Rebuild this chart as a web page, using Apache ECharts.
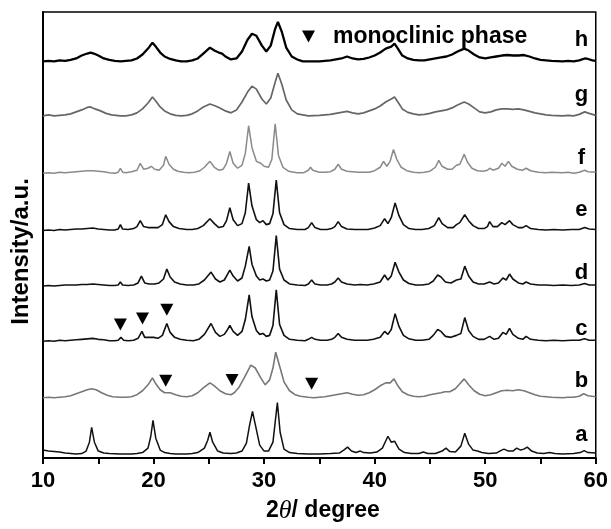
<!DOCTYPE html>
<html>
<head>
<meta charset="utf-8">
<script src="https://cdn.jsdelivr.net/npm/echarts@6/dist/echarts.min.js"></script>
<style>
html,body{margin:0;padding:0;background:#fff;}
#chart{width:611px;height:529px;}
</style>
</head>
<body>
<div id="chart"></div>
<script>
// ---------- DATA ----------
const sampleNames = ['a','b','c','d','e','f','g','h'];
const xTicks = [10, 20, 30, 40, 50, 60];

// [2theta, intensity above the trace's own baseline]
const traceA = [[10,4],[10.5,3],[11,2.5],[11.5,2],[12,1],[12.5,0.5],[13,0],[13.5,0.5],[13.9,3],[14.2,12],[14.4,27],[14.65,12],[15,3],[15.5,1],[16,0.5],[17,0],[18,0],[18.5,0.5],[19,1.5],[19.5,6],[19.75,18],[19.95,34],[20.2,16],[20.6,4],[21,1.5],[21.5,0.5],[22,0],[23,0],[23.5,0.5],[24,1.5],[24.6,6],[24.9,14],[25.1,22],[25.35,12],[25.8,3],[26.3,1],[27,0.5],[27.5,1],[28,3],[28.4,11],[28.7,30],[28.95,43],[29.2,30],[29.6,9],[30,3],[30.4,3],[30.8,12],[31.0,32],[31.2,52],[31.45,22],[31.8,5],[32.3,1.5],[33,0.5],[34,0],[35,0],[36,0.5],[36.8,1],[37.2,4],[37.55,7],[37.9,3],[38.3,1.5],[38.7,3],[39.0,1.5],[39.6,1],[40.2,2],[40.7,6],[41.2,18],[41.5,12],[41.8,13],[42.2,5],[42.7,1.5],[43.3,0.5],[44,0.5],[44.4,2],[44.8,0.5],[45.5,0.5],[46.1,3],[46.45,6],[46.8,2.5],[47.3,2],[47.8,8],[48.15,21],[48.5,10],[48.9,4],[49.3,3],[49.7,1.5],[50.3,0.5],[51,1],[51.4,3.5],[51.7,5],[52.1,3],[52.5,3],[52.85,6],[53.2,4],[53.5,5],[53.8,7],[54.2,3],[54.7,1],[55.3,0.5],[55.8,1.5],[56.3,0.5],[57,0],[58,0.5],[58.6,1.5],[58.95,3.5],[59.3,1.5],[60,1]];
const traceB = [[10,0],[10.5,0.5],[11,0],[11.5,0.5],[12,1],[12.5,2],[13,4],[13.5,6],[14,8],[14.4,9],[14.8,8],[15.3,5],[15.8,2.5],[16.3,1],[17,0.5],[17.5,0.5],[18,1],[18.5,3],[19,7],[19.5,13],[19.9,20],[20.2,14],[20.6,8],[21,5],[21.5,5],[22,3],[22.5,1.5],[23,1],[23.5,2],[24,5],[24.5,10],[25.1,15],[25.5,12],[26,7],[26.5,4],[27,3],[27.3,5],[27.7,10],[28.2,20],[28.8,33],[29.2,30],[29.7,20],[30.1,13],[30.5,18],[30.8,30],[31.05,46],[31.4,32],[31.8,16],[32.3,7],[32.8,3],[33.3,1.5],[34,0.5],[34.5,0],[35,0.5],[35.5,1],[36,2],[36.5,3],[37,4],[37.5,5],[38,3.5],[38.5,2.5],[39,3],[39.5,5],[40,8],[40.5,12],[41,15],[41.4,15],[41.75,19],[42.1,12],[42.5,6],[43,3],[43.5,1.5],[44,1],[44.5,1.5],[45,3],[45.5,4],[46,5],[46.35,6],[46.8,6],[47.3,9],[47.7,14],[48.1,19],[48.5,13],[49,7],[49.5,3.5],[50,2],[50.5,3],[51,5],[51.5,7],[52,7.5],[52.5,7],[53,8],[53.5,7],[54,5],[54.5,3],[55,1.5],[55.5,1],[56,0.5],[57,0],[57.5,0.5],[58,0.5],[58.5,1.5],[58.9,4],[59.3,2],[60,1]];
const traceC = [[10,0],[10.5,0.5],[11,0],[11.5,1],[12,0.5],[12.5,1],[13,1.5],[13.5,2],[14,2.5],[14.5,3],[15,2],[15.5,1.5],[16,0.5],[16.5,0.5],[16.8,1],[17.05,4],[17.3,1],[17.7,0.5],[18.2,1],[18.6,3],[18.95,10],[19.2,4],[19.6,4],[20.0,4],[20.4,3],[20.8,6],[21.2,18],[21.5,9],[21.9,4],[22.4,2],[23,1],[23.6,0.5],[24.1,2],[24.6,7],[25.2,18],[25.6,9],[26,5],[26.4,7],[26.7,12],[26.9,16],[27.2,10],[27.6,6],[28.0,10],[28.3,22],[28.65,47],[28.9,25],[29.3,11],[29.6,7],[29.9,8],[30.2,5],[30.5,6],[30.8,16],[31.1,52],[31.4,17],[31.8,6],[32.3,2],[33,1],[33.7,0.5],[34.0,2],[34.3,4],[34.6,2],[35.1,1],[35.7,1],[36.1,2],[36.4,4],[36.7,8],[37.0,4],[37.5,2],[38.2,1],[38.7,1],[39.3,1],[39.9,2],[40.5,4],[40.9,10],[41.2,7],[41.5,12],[41.85,28],[42.2,15],[42.6,6],[43.1,2.5],[43.7,1],[44.3,1],[44.9,2],[45.3,6],[45.7,12],[46.0,10],[46.4,5],[46.9,4],[47.4,6],[47.8,8],[48.15,24],[48.5,11],[48.9,5],[49.4,2],[49.9,2],[50.4,5],[50.8,2],[51.2,3],[51.6,9],[51.9,7],[52.2,13],[52.5,7],[53,3],[53.4,2],[53.7,5],[54.1,2],[54.8,1],[55.5,0.5],[56.2,1],[57,0.5],[57.8,1],[58.5,1],[59.0,2.5],[59.4,1],[60,1]];
const traceD = [[10,0],[10.5,0.5],[11,0],[11.5,0.5],[12,1],[12.5,1],[13,1],[13.5,1.5],[14,1.5],[14.5,2],[15,1.5],[15.5,1],[16,0.5],[16.5,0.5],[16.8,1],[17.0,4],[17.2,1],[17.7,0.5],[18.2,1],[18.6,3],[18.9,10],[19.2,3],[19.6,2],[20.1,2],[20.5,3],[20.9,7],[21.2,17],[21.5,9],[21.9,4],[22.4,2],[23,1],[23.6,1],[24.1,2],[24.6,6],[25.2,14],[25.6,7],[26,4],[26.4,6],[26.7,12],[26.9,16],[27.2,10],[27.6,5],[28.0,8],[28.3,20],[28.65,40],[28.9,22],[29.3,10],[29.6,6],[29.9,7],[30.2,5],[30.5,6],[30.8,15],[31.1,51],[31.4,17],[31.8,6],[32.3,2],[33,1],[33.7,0.5],[34.0,2],[34.3,6],[34.6,2],[35.1,1],[35.7,1],[36.1,2],[36.4,4],[36.7,8],[37.0,4],[37.5,2],[38.2,1],[38.7,1.5],[39.3,1],[39.9,2],[40.5,4],[40.9,11],[41.2,6],[41.5,10],[41.85,24],[42.2,14],[42.6,6],[43.1,2.5],[43.7,1],[44.3,1],[44.9,2],[45.3,5],[45.7,11],[46.0,9],[46.4,4],[46.9,3],[47.4,6],[47.8,7],[48.15,20],[48.5,10],[48.9,4],[49.4,2],[49.9,2],[50.4,4],[50.8,2],[51.2,3],[51.6,8],[51.9,6],[52.2,12],[52.5,7],[53,3],[53.4,2],[53.7,4],[54.1,2],[54.8,1],[55.5,1],[56.2,0.5],[57,1],[57.8,0.5],[58.5,1],[59.0,2.5],[59.4,1],[60,1]];
const traceE = [[10,0],[10.5,0.5],[11,0],[11.5,1],[12,0.5],[12.5,1],[13,1.5],[13.5,1.5],[14,2],[14.5,2.5],[15,1.5],[15.5,1],[16,0.5],[16.5,0.5],[16.8,1.5],[17.0,6],[17.2,1.5],[17.7,1],[18.2,2],[18.5,4],[18.8,10],[19.1,4],[19.5,3],[19.9,3],[20.4,3],[20.8,6],[21.1,16],[21.4,9],[21.8,4],[22.3,2],[23,1],[23.5,1],[24,2],[24.5,5],[25.1,12],[25.5,7],[25.9,3],[26.3,4],[26.6,10],[26.9,23],[27.2,11],[27.6,5],[28.0,7],[28.3,18],[28.6,48],[28.9,25],[29.3,11],[29.6,8],[29.9,10],[30.2,6],[30.5,7],[30.8,17],[31.1,51],[31.4,18],[31.8,6],[32.3,2],[33,1],[33.7,1],[34.0,3],[34.3,8],[34.6,3],[35.1,1],[35.7,1],[36.1,2],[36.4,4],[36.7,9],[37.0,4],[37.5,1.5],[38.2,1],[38.8,1],[39.4,1],[40,2.5],[40.5,5],[40.9,12],[41.2,7],[41.5,13],[41.85,28],[42.2,15],[42.6,6],[43.1,2],[43.7,1],[44.3,1],[44.9,2],[45.4,5],[45.8,13],[46.1,7],[46.6,3],[47.1,3],[47.4,6],[47.7,8],[48.15,16],[48.5,10],[48.9,5],[49.4,2],[49.9,2],[50.2,4],[50.4,9],[50.7,4],[51.1,4],[51.5,8],[51.8,6],[52.2,10],[52.5,6],[53,3],[53.4,3],[53.7,5],[54.1,2],[54.8,1],[55.5,0.5],[56.2,1],[57,0.5],[57.8,1],[58.5,1],[59.0,3],[59.4,1.5],[60,1]];
const traceF = [[10,0],[10.5,0.5],[11,0],[11.5,1],[12,0.5],[12.5,1],[13,1.5],[13.5,2],[14,2.5],[14.5,2.5],[15,2],[15.5,1.5],[16,0.5],[16.5,0],[16.8,1],[17.0,5],[17.2,1],[17.5,0.5],[18,1.5],[18.5,3],[18.8,10],[19.1,4],[19.5,5],[19.8,7],[20.1,4],[20.5,3],[20.9,8],[21.1,17],[21.4,9],[21.8,4],[22.2,2],[22.7,1],[23.2,0.5],[23.7,1],[24.2,2.5],[24.6,6],[25.1,12],[25.5,6],[25.9,3],[26.3,4],[26.6,10],[26.9,22],[27.2,10],[27.6,5],[28.0,8],[28.3,20],[28.6,48],[28.9,26],[29.3,12],[29.7,10],[30.0,7],[30.4,6],[30.7,14],[31.0,50],[31.3,18],[31.7,6],[32.2,2],[33,0.5],[33.6,0.5],[34.0,3],[34.2,6],[34.4,3],[35,1],[35.5,1],[36,1.5],[36.4,4],[36.7,9],[37.0,4],[37.5,2],[38,1.5],[38.5,1],[39,1],[39.5,1],[40,2.5],[40.5,6],[40.8,12],[41.1,7],[41.4,12],[41.7,24],[42.0,14],[42.4,6],[42.9,2.5],[43.5,1],[44,0.5],[44.5,1],[45,2],[45.5,6],[45.8,13],[46.1,7],[46.6,4],[47.0,4],[47.4,8],[47.7,9],[48.1,19],[48.4,11],[48.8,5],[49.3,2.5],[49.8,2],[50.2,3],[50.4,5],[50.7,3],[51.2,5],[51.5,10],[51.8,7],[52.1,12],[52.4,7],[52.9,4],[53.4,3],[53.7,5],[54.1,2.5],[54.8,1],[55.5,0.5],[56,1],[57,0.5],[57.5,1],[58,0],[58.5,1],[59.0,3],[59.3,1.5],[60,1]];
const traceG = [[10,0],[10.5,1],[11,0],[11.5,0.5],[12,1],[12.5,2],[13,4],[13.5,6],[14,8.5],[14.3,9],[14.7,7],[15.2,5],[15.7,2.5],[16.2,1],[17,0],[17.5,0],[18,1],[18.5,3],[19,7],[19.5,13],[19.9,19],[20.2,15],[20.6,9],[21,5],[21.5,2],[22,0.5],[22.5,0],[23,0.5],[23.5,2],[24,5],[24.5,9],[25.1,12],[25.6,10],[26,8],[26.5,5],[27,3],[27.5,6],[28,14],[28.5,24],[28.9,30],[29.3,27],[29.8,17],[30.2,12],[30.6,18],[31.0,34],[31.25,43],[31.6,32],[32,16],[32.5,6],[33,2],[33.5,1],[34,0],[35,0.5],[35.5,1],[36,1.5],[36.5,2.5],[37,3.5],[37.5,4.5],[38,3],[38.5,2],[39,3],[39.5,5],[40,7],[40.5,10],[41,14],[41.5,17],[41.8,19],[42.1,14],[42.5,7],[43,3.5],[43.5,2],[44,1],[44.5,1.5],[45,2.5],[45.5,4],[46,5],[46.5,6],[47,8],[47.5,11],[48.1,14],[48.5,12],[49,8],[49.5,4],[50,3],[50.5,4],[51,6],[51.5,7],[52,7],[52.5,6.5],[53,7],[53.5,6],[54,4.5],[54.5,3],[55,2],[55.5,1],[56,0.5],[57,0],[57.5,0.5],[58,0],[58.5,1.5],[59,4],[59.4,2.5],[60,0.5]];
const traceH = [[10,0],[10.5,0.5],[11,0],[11.5,1],[12,0.5],[12.5,1.5],[13,3],[13.5,6],[14,8],[14.3,9],[14.6,8],[15,6],[15.5,3],[16,1.5],[16.5,0.5],[17,0],[17.5,0.5],[18,1],[18.5,3],[19,7],[19.5,13],[19.9,19],[20.2,15],[20.6,9],[21,5],[21.5,2.5],[22,1],[22.5,0],[23,0],[23.5,1],[24,3],[24.5,8],[25.1,14],[25.5,11],[25.9,9],[26.2,8],[26.5,5],[27,2],[27.5,3],[28,10],[28.5,22],[28.9,28],[29.3,26],[29.8,16],[30.2,10],[30.6,16],[31.0,33],[31.25,40],[31.6,30],[32,14],[32.5,5],[33,2],[33.5,0],[34,0],[35,0],[35.5,0.5],[36,1],[36.5,2],[37,3],[37.5,5],[38,3],[38.5,2],[39,2.5],[39.5,4],[40,6],[40.5,9],[41,13],[41.5,15],[41.8,18],[42.1,13],[42.5,6],[43,3],[43.5,1.5],[44,1],[44.5,1],[45,2],[45.5,3],[46,4],[46.5,5],[47,7],[47.5,10],[48.1,13],[48.5,11],[49,7],[49.5,4],[50,3],[50.5,4],[51,5],[51.5,6],[52,6.5],[52.5,6],[53,6],[53.5,6.5],[54,5],[54.5,3],[55,1.5],[55.5,1],[56,0.5],[57,0],[57.5,0.5],[58,0],[58.5,1],[59,3],[59.3,2.5],[59.7,1],[60,0.5]];
const traces = [traceA, traceB, traceC, traceD, traceE, traceF, traceG, traceH];

// vertical stacking offset of each pattern (a.u.)
const offsets = [4, 61, 118, 174, 230, 288, 346, 401];

// monoclinic-phase reflections marked with ▼ [2theta, a.u.]
const monoclinicMarks = [[17.0,135],[19.0,141],[21.2,150],[21.1,78],[27.1,79],[34.3,75]];

// ---------- STYLE / LAYOUT ----------
const FONT = "'Liberation Sans', Arial, Helvetica, sans-serif";
const lineColors = ['#111','#777','#111','#111','#111','#8a8a8a','#666','#000'];
const lineWidths = [1.5, 1.6, 1.6, 1.6, 1.6, 1.5, 1.7, 2.3];
const LABEL_X = 58.7;
const LABEL_LIFT = [19.6, 16.6, 12.6, 13.6, 20.6, 15.6, 21.6, 21.6];
const DOWN_TRIANGLE = 'path://M0,0 L12,0 L6,11 Z';

const series = traces.map((tr, i) => ({
  type: 'line',
  name: 'trace ' + sampleNames[i],
  data: tr.map(p => [p[0], offsets[i] + p[1]]),
  showSymbol: false,
  symbol: 'none',
  lineStyle: { color: lineColors[i], width: lineWidths[i] },
  z: 2
}));

series.push({
  type: 'scatter',
  name: 'monoclinic phase',
  data: monoclinicMarks,
  symbol: DOWN_TRIANGLE,
  symbolSize: [13, 12],
  itemStyle: { color: '#000', opacity: 1 },
  z: 5
});

series.push({
  type: 'scatter',
  name: 'sample labels',
  data: sampleNames.map((n, i) => ({ value: [LABEL_X, offsets[i] + LABEL_LIFT[i]], name: n })),
  symbolSize: 0,
  itemStyle: { opacity: 1 },
  label: {
    show: true, position: 'inside', formatter: p => p.name,
    fontFamily: FONT, fontWeight: 'bold', fontSize: 22, color: '#000',
    align: 'center', verticalAlign: 'middle'
  },
  z: 6,
  silent: true
});

const chart = echarts.init(document.getElementById('chart'), null, { renderer: 'canvas' });
chart.setOption({
  animation: false,
  backgroundColor: '#fff',
  grid: { left: 43, right: 15, top: 12, bottom: 66, show: true, borderColor: '#000', borderWidth: 1.5, backgroundColor: 'transparent' },
  legend: {
    data: [{ name: 'monoclinic phase', icon: DOWN_TRIANGLE }],
    left: 302, top: 25, padding: 0,
    itemWidth: 13, itemHeight: 12,
    itemStyle: { color: '#000', opacity: 1 },
    textStyle: { fontFamily: FONT, fontWeight: 'bold', fontSize: 23, color: '#000', padding: [0, 0, 0, 13] },
    selectedMode: false
  },
  xAxis: {
    type: 'value', min: xTicks[0], max: xTicks[xTicks.length - 1], interval: 10,
    axisLine: { show: true, onZero: false, lineStyle: { color: '#000', width: 2 } },
    axisTick: { show: true, length: 6, lineStyle: { color: '#000', width: 2 } },
    minorTick: { show: true, splitNumber: 2, length: 6, lineStyle: { color: '#000', width: 2 } },
    splitLine: { show: false },
    axisLabel: { fontFamily: FONT, fontWeight: 'bold', fontSize: 22, color: '#000', margin: 12 },
    name: '{n|2}{t|θ}{n|/ degree}',
    nameLocation: 'middle', nameGap: 40,
    nameTextStyle: {
      padding: [0, 0, 0, 7],
      rich: {
        n: { fontFamily: FONT, fontWeight: 'bold', fontSize: 23, color: '#000' },
        t: { fontFamily: "'Liberation Serif', 'DejaVu Serif', serif", fontStyle: 'italic', fontSize: 26, color: '#000' }
      }
    }
  },
  yAxis: {
    type: 'value', min: 0, max: 451,
    axisLine: { show: true, lineStyle: { color: '#000', width: 2 } },
    axisTick: { show: false }, axisLabel: { show: false }, splitLine: { show: false },
    name: 'Intensity/a.u.', nameLocation: 'middle', nameRotate: 90, nameGap: 10,
    nameTextStyle: { fontFamily: FONT, fontWeight: 'bold', fontSize: 24, color: '#000', padding: [0, 33, 0, 0] }
  },
  series: series
});
</script>
</body>
</html>
